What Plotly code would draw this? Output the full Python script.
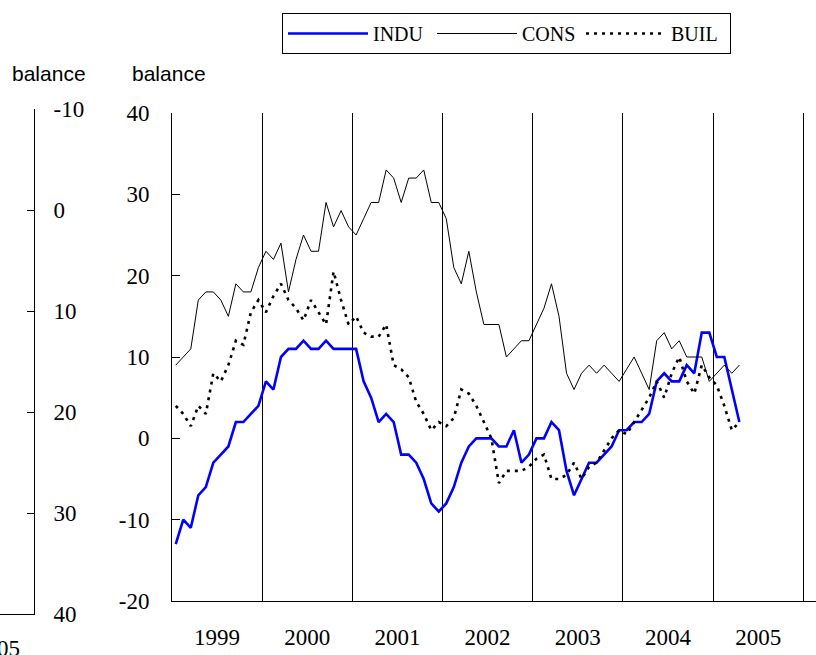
import plotly.graph_objects as go

# Monthly balances, Jan 1999 - Apr 2005
years = ["1999", "2000", "2001", "2002", "2003", "2004", "2005"]

indu = [-13, -10, -11, -7, -6, -3, -2, -1, 2, 2, 3, 4,
        7, 6, 10, 11, 11, 12, 11, 11, 12, 11, 11, 11,
        11, 7, 5, 2, 3, 2, -2, -2, -3, -5, -8, -9,
        -8, -6, -3, -1, 0, 0, 0, -1, -1, 1, -3, -2,
        0, 0, 2, 1, -4, -7, -5, -3, -3, -2, -1, 1,
        1, 2, 2, 3, 7, 8, 7, 7, 9, 8, 13, 13,
        10, 10, 6, 2]

cons = [9, 10, 11, 17, 18, 18, 17, 15, 19, 18, 18, 21,
        23, 22, 24, 18, 22, 25, 23, 23, 29, 26, 28, 26,
        25, 27, 29, 29, 33, 32, 29, 32, 32, 33, 29, 29,
        27, 21, 19, 23, 18, 14, 14, 14, 10, 11, 12, 12,
        14, 16, 19, 15, 8, 6, 8, 9, 8, 9, 8, 7,
        8.5, 10, 8, 6, 12, 13, 11, 12, 10, 10, 10, 7,
        8, 9, 8, 9]

buil = [4, 3, 1.5, 4, 3, 8, 7, 9, 12, 11.5, 15.5, 17,
        15.5, 17.5, 19, 17, 16, 14.5, 17, 15.5, 14, 20.5, 17, 14,
        15, 13, 12.5, 12.5, 14, 9, 8.5, 7.5, 4.5, 3, 1, 2,
        1.5, 2.5, 6, 5.5, 4, 2, 0, -5.5, -4, -4, -4, -3.5,
        -2.5, -2, -5, -5, -4.5, -3, -5, -3.5, -3, -1.5, 0, 1,
        0.5, 2, 3.5, 5, 7, 5, 8, 10, 7, 5.5, 9, 7.5,
        6.5, 4, 1, 2]

left_ticks = [-10, 0, 10, 20, 30, 40]
main_ticks = [-20, -10, 0, 10, 20, 30, 40]

months = list(range(len(indu)))
year_centres = [12 * k + 5.5 for k in range(len(years))]

W, H = 816, 655
T, B = 100, 40
PH = H - T - B

def py(y):
    return (H - B - y) / PH

serif = "Liberation Serif, Times New Roman, serif"
sans = "Liberation Sans, Arial, sans-serif"

fig = go.Figure()
fig.add_trace(go.Scatter(x=months, y=indu, mode="lines", name="INDU",
                         line=dict(color="#0000FF", width=2.6)))
fig.add_trace(go.Scatter(x=months, y=cons, mode="lines", name="CONS",
                         line=dict(color="black", width=1)))
fig.add_trace(go.Scatter(x=months, y=buil, mode="lines", name="BUIL",
                         line=dict(color="black", width=2.6, dash="3px,5px")))
fig.add_trace(go.Scatter(x=[], y=[], xaxis="x2", yaxis="y2", showlegend=False,
                         hoverinfo="skip"))

fig.update_layout(
    width=W, height=H,
    margin=dict(l=0, r=0, t=T, b=B),
    paper_bgcolor="white", plot_bgcolor="white",
    font=dict(family=serif, size=23, color="black"),
    xaxis=dict(domain=[172 / W, 1], range=[-0.5, 85.2], anchor="y",
               tickvals=year_centres, ticktext=years, ticks="",
               showline=True, linecolor="black", linewidth=1,
               showgrid=False, zeroline=False, ticklabelstandoff=15,
               minor=dict(tick0=-0.5, dtick=12, showgrid=True,
                          gridcolor="black", gridwidth=1, ticks="")),
    yaxis=dict(domain=[py(601), py(113)], range=[-20, 40], anchor="x",
               tickvals=main_ticks, ticktext=[str(v) for v in main_ticks],
               ticks="inside", ticklen=8, tickcolor="black",
               showline=True, linecolor="black", linewidth=1,
               showgrid=False, zeroline=False, ticklabelstandoff=17),
    xaxis2=dict(domain=[0, 34 / W], range=[0, 1], anchor="y2",
                showline=True, linecolor="black", linewidth=1,
                showticklabels=False, ticks="", showgrid=False, zeroline=False),
    yaxis2=dict(domain=[py(614), py(109)], range=[40, -10], anchor="x2",
                side="right", tickvals=left_ticks,
                ticktext=[str(v) for v in left_ticks],
                ticks="inside", ticklen=7,
                tickcolor="black", showline=True, linecolor="black", linewidth=1,
                showgrid=False, zeroline=False, ticklabelstandoff=14),
    legend=dict(orientation="h", x=282 / W, y=py(13), xanchor="left", yanchor="top",
                bordercolor="black", borderwidth=1, bgcolor="white",
                font=dict(family=serif, size=20), itemwidth=80,
                entrywidth=54, entrywidthmode="pixels"),
    showlegend=True,
    annotations=[
        dict(text="balance", x=10 / W, y=py(73), xref="paper", yref="paper",
             xanchor="left", yanchor="middle", showarrow=False,
             font=dict(family=sans, size=21)),
        dict(text="balance", x=130 / W, y=py(73), xref="paper", yref="paper",
             xanchor="left", yanchor="middle", showarrow=False,
             font=dict(family=sans, size=21)),
        dict(text="2005", x=22 / W, y=py(648), xref="paper", yref="paper",
             xanchor="right", yanchor="middle", showarrow=False,
             font=dict(family=serif, size=23)),
    ],
)

fig.write_html("out.html",
               config={"displayModeBar": False},
               post_script="document.body.style.margin='0';"
                           "document.body.style.overflow='hidden';")
